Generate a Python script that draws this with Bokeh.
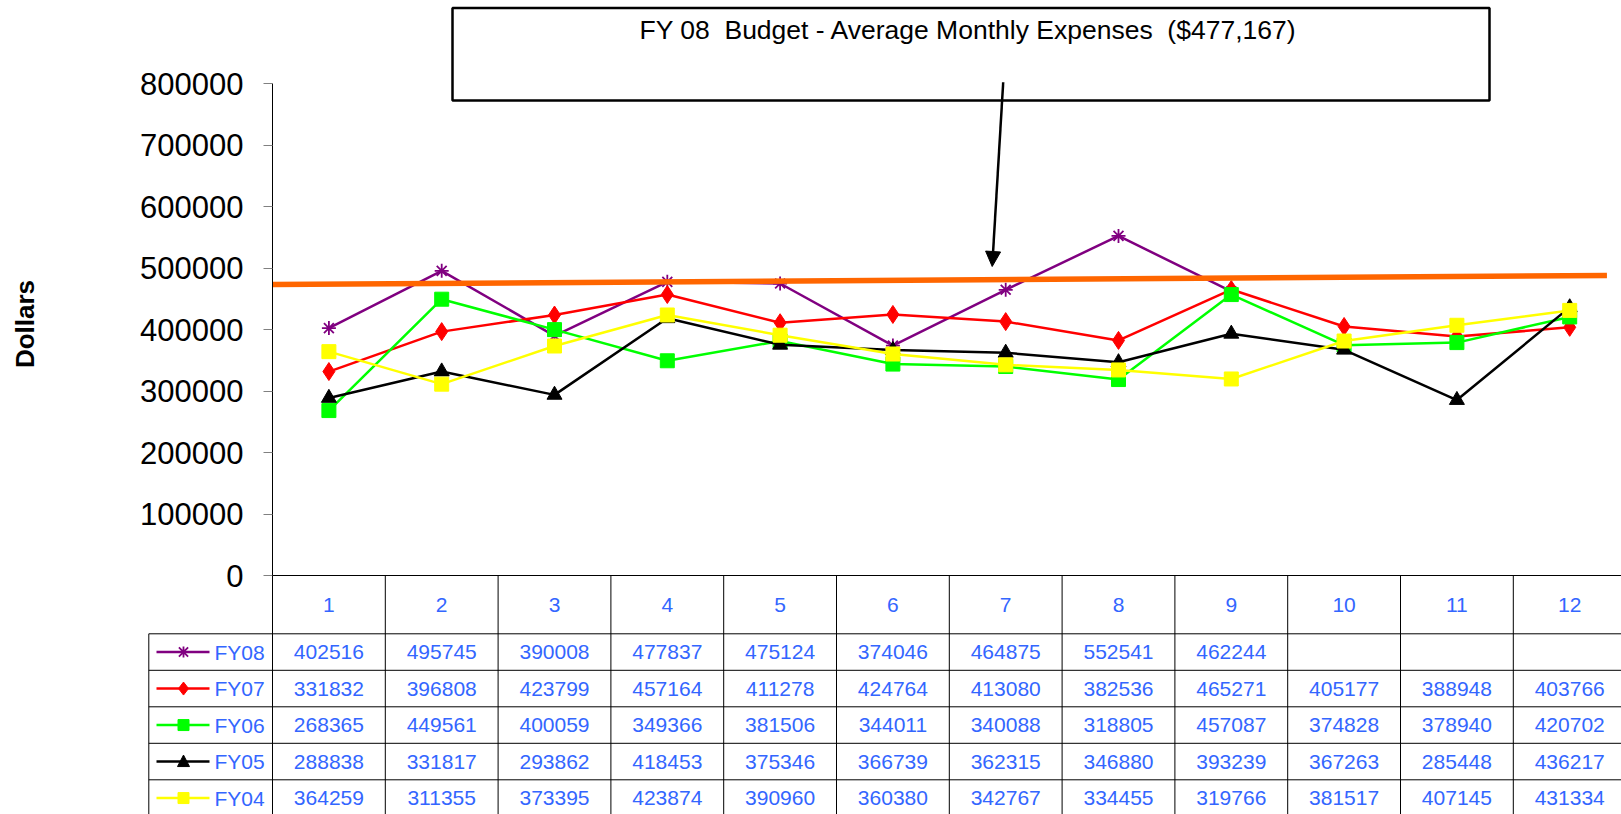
import math
import numpy as np
from bokeh.plotting import figure
from bokeh.models import Range1d, FixedTicker, BasicTickFormatter, Arrow, NormalHead
from bokeh.core.properties import value
from bokeh.embed import file_html
from bokeh.resources import INLINE

# ---------------- data ----------------
months = [1, 2, 3, 4, 5, 6, 7, 8, 9, 10, 11, 12]
month_labels = ["1", "2", "3", "4", "5", "6", "7", "8", "9", "10", "11", "12"]
series_names = ["FY08", "FY07", "FY06", "FY05", "FY04"]
fy08 = [402516, 495745, 390008, 477837, 475124, 374046, 464875, 552541, 462244, None, None, None]
fy07 = [331832, 396808, 423799, 457164, 411278, 424764, 413080, 382536, 465271, 405177, 388948, 403766]
fy06 = [268365, 449561, 400059, 349366, 381506, 344011, 340088, 318805, 457087, 374828, 378940, 420702]
fy05 = [288838, 331817, 293862, 418453, 375346, 366739, 362315, 346880, 393239, 367263, 285448, 436217]
fy04 = [364259, 311355, 373395, 423874, 390960, 360380, 342767, 334455, 319766, 381517, 407145, 431334]
budget_x = [0.5, 12.33]
budget_y = [473500, 488100]
budget_label = "FY 08 \u00a0Budget - Average Monthly Expenses \u00a0($477,167)"
y_ticks = [0, 100000, 200000, 300000, 400000, 500000, 600000, 700000, 800000]
y_label = "Dollars"

series_values = [fy08, fy07, fy06, fy05, fy04]

# ---------------- layout (pixels) ----------------
W, H = 1621, 814
LEFT = 272            # frame left edge (y axis)
COL = 112.8           # column width in px
ZERO_PX = 575         # y pixel of value 0
PX_PER_UNIT = 61.46 / 100000.0
HEADER_TOP = 575
ROW_TOP = 633.3
ROW_H = 36.5
LEG_LEFT = 148.3
BLUE = "#3366FF"
FONT = "Liberation Sans"


def xd(px):
    return 0.5 + (px - LEFT) / COL


def yd(px):
    return (ZERO_PX - px) / PX_PER_UNIT


p = figure(width=W, height=H, output_backend="svg", toolbar_location=None,
           x_range=Range1d(0.5, xd(W)), y_range=Range1d(yd(H), yd(0)),
           x_axis_location=None, min_border_left=LEFT, min_border_right=0,
           min_border_top=0, min_border_bottom=0)
p.outline_line_color = None
p.grid.visible = False
p.background_fill_color = "white"
p.border_fill_color = "white"

ax = p.yaxis[0]
ax.ticker = FixedTicker(ticks=y_ticks)
ax.formatter = BasicTickFormatter(use_scientific=False)
ax.bounds = (0, 800000)
ax.major_label_text_font = FONT
ax.major_label_text_font_size = "31px"
ax.major_label_text_color = "black"
ax.major_tick_out = 9
ax.major_tick_in = 0
ax.minor_tick_out = 0
ax.minor_tick_in = 0
ax.major_tick_line_color = "#808080"
ax.axis_line_color = "black"
ax.major_label_standoff = 20

# ---------------- series ----------------
styles = [
    ("#800080", "asterisk", 14),
    ("#FF0000", "diamond", 18),
    ("#00FF00", "square", 14),
    ("#000000", "triangle", 15),
    ("#FFFF00", "square", 14),
]

for vals, (color, marker, size) in zip(series_values, styles):
    yv = np.array([np.nan if v is None else v for v in vals], dtype=float)
    p.line(months, yv, line_color=color, line_width=2.5)
    p.scatter(months, yv, marker=marker, size=size, fill_color=color,
              line_color=color, line_width=1.8 if marker == "asterisk" else 1)

# budget line
p.line(budget_x, budget_y, line_color="#FF6600", line_width=5.5)

# ---------------- data table ----------------
x_end = xd(W)
bottom = yd(H)
row_edges = [yd(ROW_TOP + i * ROW_H) for i in range(len(series_names))]

p.segment(x0=[0.5], y0=[yd(HEADER_TOP)], x1=[x_end], y1=[yd(HEADER_TOP)],
          line_color="black", line_width=1, level="overlay")
p.segment(x0=[xd(LEG_LEFT)] * len(row_edges), y0=row_edges,
          x1=[x_end] * len(row_edges), y1=row_edges,
          line_color="black", line_width=1, level="overlay")
vx = [m - 0.5 for m in months]
p.segment(x0=vx, y0=[yd(HEADER_TOP)] * len(vx), x1=vx, y1=[bottom] * len(vx),
          line_color="black", line_width=1, level="overlay")
p.segment(x0=[xd(LEG_LEFT)], y0=[yd(ROW_TOP)], x1=[xd(LEG_LEFT)], y1=[bottom],
          line_color="black", line_width=1, level="overlay")

p.text(x=months, y=[yd(HEADER_TOP + 29)] * len(months), text=month_labels,
       text_align="center", text_baseline="middle", text_font=value(FONT),
       text_font_size="21px", text_color=BLUE, level="overlay")


def key_shape(marker, cx, cy):
    """Legend-key marker outline in pixel offsets -> data coords."""
    if marker == "diamond":
        pts = [(0, -6.5), (5, 0), (0, 6.5), (-5, 0)]
    elif marker == "square":
        pts = [(-5.5, -5.5), (5.5, -5.5), (5.5, 5.5), (-5.5, 5.5)]
    elif marker == "triangle":
        pts = [(0, -6.5), (6, 5), (-6, 5)]
    else:
        return None
    return [xd(cx + a) for a, b in pts], [yd(cy + b) for a, b in pts]


for i, (name, vals, (color, marker, size)) in enumerate(zip(series_names, series_values, styles)):
    cy_px = ROW_TOP + (i + 0.5) * ROW_H
    cy = yd(cy_px)
    xs = [m for m, v in zip(months, vals) if v is not None]
    ts = [str(v) for v in vals if v is not None]
    p.text(x=xs, y=[cy] * len(xs), text=ts, text_align="center",
           text_baseline="middle", text_font=value(FONT),
           text_font_size="21px", text_color=BLUE, level="overlay")
    # legend key line
    p.line([xd(156), xd(209)], [cy, cy], line_color=color, line_width=2.5, level="overlay")
    shape = key_shape(marker, 183, cy_px)
    if shape is not None:
        p.patch(shape[0], shape[1], fill_color=color, line_color=color,
                line_width=1, level="overlay")
    else:
        r = 5.5
        d = 4.6
        ax_ = [xd(183), xd(183), np.nan, xd(183 - d), xd(183 + d), np.nan, xd(183 - d), xd(183 + d)]
        ay_ = [yd(cy_px - r), yd(cy_px + r), np.nan, yd(cy_px - d), yd(cy_px + d), np.nan,
               yd(cy_px + d), yd(cy_px - d)]
        p.line(ax_, ay_, line_color=color, line_width=1.8, level="overlay")
    p.text(x=[xd(214)], y=[cy], text=[name], text_align="left",
           text_baseline="middle", text_font=value(FONT),
           text_font_size="21px", text_color=BLUE, level="overlay")

# y axis title
p.text(x=[xd(24)], y=[yd(323.5)], text=[y_label], angle=math.pi / 2,
       text_align="center", text_baseline="middle", text_font=value(FONT),
       text_font_size="26px", text_font_style="bold", text_color="black",
       level="overlay")

# ---------------- budget annotation box ----------------
p.quad(left=[xd(452)], right=[xd(1489)], top=[yd(7.5)], bottom=[yd(100)],
       fill_color="white", line_color="black", line_width=2.5, level="overlay")
p.text(x=[xd(968)], y=[yd(29.5)], text=[budget_label], text_align="center",
       text_baseline="middle", text_font=value(FONT), text_font_size="26.5px",
       text_color="black", level="overlay")
arrow = Arrow(end=NormalHead(size=15, fill_color="black", line_color="black"),
              x_start=xd(1002.7), y_start=yd(81.7), x_end=xd(991.7), y_end=yd(266),
              line_color="black", line_width=2.5, level="overlay")
p.add_layout(arrow)

open("out.html", "w").write(file_html(p, INLINE))
